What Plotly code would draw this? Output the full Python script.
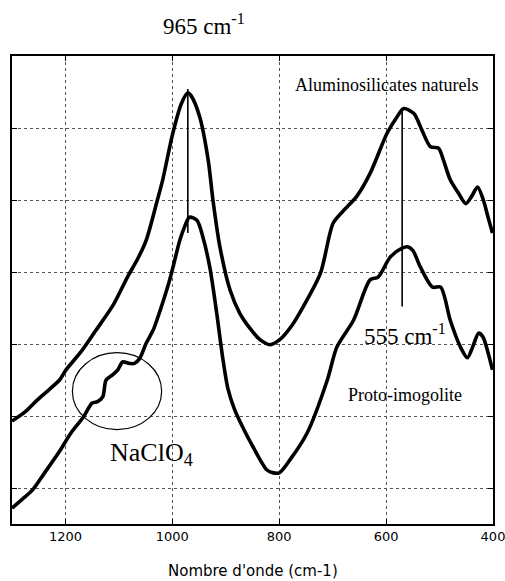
import plotly.graph_objects as go

# Wavenumbers (cm-1) and intensities (arbitrary units)
wn_alumino = [1300, 1275, 1253, 1230, 1211, 1199, 1170, 1143, 1110, 1084, 1065, 1049,
              1028, 1018, 999, 983, 971, 965, 949, 933, 924, 911, 892, 874, 855, 836,
              817, 799, 777, 755, 723, 699, 680, 655, 630, 598, 580, 567, 548, 533,
              517, 502, 493, 480, 465, 451, 440, 429, 418, 410, 401]
int_alumino = [1.93, 2.06, 2.22, 2.37, 2.50, 2.64, 2.90, 3.19, 3.55, 3.93, 4.18, 4.44,
               5.00, 5.28, 5.93, 6.34, 6.49, 6.45, 6.16, 5.56, 5.00, 4.35, 3.75, 3.43, 3.22, 3.06,
               2.99, 3.06, 3.25, 3.52, 3.98, 4.68, 4.85, 5.05, 5.37, 5.93, 6.15, 6.27, 6.20, 5.97,
               5.74, 5.72, 5.56, 5.28, 5.10, 4.95, 5.05, 5.18, 5.00, 4.78, 4.54]

wn_proto = [1300, 1280, 1262, 1240, 1211, 1190, 1166, 1150, 1140, 1130, 1124, 1112,
            1102, 1093, 1080, 1071, 1061, 1049, 1036, 1029, 1005, 986, 977, 968, 954,
            943, 930, 917, 906, 896, 884, 868, 849, 823, 811, 800, 780, 748, 710, 692, 661,
            630, 615, 592, 570, 560, 550, 536, 513, 498, 480, 461, 448, 437, 427, 419,
            410, 401]
int_proto = [0.72, 0.85, 0.97, 1.20, 1.51, 1.76, 1.99, 2.18, 2.20, 2.27, 2.50, 2.57,
             2.64, 2.75, 2.73, 2.73, 2.80, 3.01, 3.19, 3.33, 3.89, 4.44, 4.63, 4.76, 4.72,
             4.49, 4.07, 3.43, 2.82, 2.38, 2.10, 1.84, 1.57, 1.25, 1.21, 1.21, 1.39, 1.76, 2.50, 2.96, 3.33,
             3.89, 3.93, 4.21, 4.33, 4.35, 4.30, 4.07, 3.79, 3.79, 3.33, 2.96, 2.81, 2.98, 3.15, 3.10,
             2.90, 2.64]

x_ticks = [1200, 1000, 800, 600, 400]
y_grid = [1, 2, 3, 4, 5, 6, 7]

# marker lines for the two bands
band1_x = 971
band1_y = [4.54, 6.54]
band2_x = 570
band2_y = [3.52, 6.28]

serif = "Liberation Serif, Times New Roman, serif"
sans = "DejaVu Sans, Arial, sans-serif"

fig = go.Figure()
fig.add_trace(go.Scatter(x=wn_alumino, y=int_alumino, mode="lines",
                         line=dict(color="black", width=3.6, shape="spline", smoothing=0.8),
                         showlegend=False, hoverinfo="skip"))
fig.add_trace(go.Scatter(x=wn_proto, y=int_proto, mode="lines",
                         line=dict(color="black", width=3.6, shape="spline", smoothing=0.8),
                         showlegend=False, hoverinfo="skip"))
fig.add_trace(go.Scatter(x=[band1_x, band1_x], y=band1_y, mode="lines",
                         line=dict(color="black", width=1.6), showlegend=False, hoverinfo="skip"))
fig.add_trace(go.Scatter(x=[band2_x, band2_x], y=band2_y, mode="lines",
                         line=dict(color="black", width=1.6), showlegend=False, hoverinfo="skip"))

# NaClO4 ellipse
fig.add_shape(type="circle", xref="x", yref="y", x0=1187, x1=1020, y0=1.81, y1=2.88,
              line=dict(color="black", width=1.2))

fig.update_layout(
    width=505, height=581,
    margin=dict(l=12, r=12, t=56, b=57),
    paper_bgcolor="white", plot_bgcolor="white",
    xaxis=dict(range=[1300, 400], tickvals=x_ticks, ticktext=[str(v) for v in x_ticks],
               automargin=False, ticklabeloverflow="allow",
               showgrid=True, gridcolor="#555555", gridwidth=1, griddash="dot",
               showline=True, linecolor="black", linewidth=1.5, mirror="ticks",
               ticks="inside", ticklen=5, tickcolor="black", tickwidth=1.2,
               tickfont=dict(family=sans, size=13, color="black"),
               zeroline=False),
    yaxis=dict(range=[0.5, 7], tickvals=y_grid, showticklabels=False, automargin=False,
               showgrid=True, gridcolor="#555555", gridwidth=1, griddash="dot",
               showline=True, linecolor="black", linewidth=1.5, mirror="ticks",
               ticks="inside", ticklen=5, tickcolor="black", tickwidth=1.2,
               zeroline=False),
)

ann = dict(xref="paper", yref="paper", showarrow=False, xanchor="left", yanchor="middle")
fig.add_annotation(text="965 cm<sup>-1</sup>", x=0.309, y=1.068,
                   font=dict(family=serif, size=23, color="black"), **ann)
fig.add_annotation(text="Aluminosilicates naturels", x=0.584, y=0.939,
                   font=dict(family=serif, size=18, color="black"), **ann)
fig.add_annotation(text="555 cm<sup>-1</sup>", x=0.728, y=0.404,
                   font=dict(family=serif, size=23, color="black"), **ann)
fig.add_annotation(text="Proto-imogolite", x=0.694, y=0.2765,
                   font=dict(family=serif, size=18, color="black"), **ann)
fig.add_annotation(text="NaClO<sub>4</sub>", x=0.200, y=0.150,
                   font=dict(family=serif, size=26, color="black"), **ann)
# axis title
fig.add_annotation(text="Nombre d'onde (cm-1)", xref="paper", yref="paper",
                   x=0.5, y=-0.1, xanchor="center", yanchor="middle", showarrow=False,
                   font=dict(family=sans, size=15, color="black"))

fig.write_html("out.html", config={"displayModeBar": False},
               post_script="document.body.style.margin='0';document.body.style.overflow='hidden';")
